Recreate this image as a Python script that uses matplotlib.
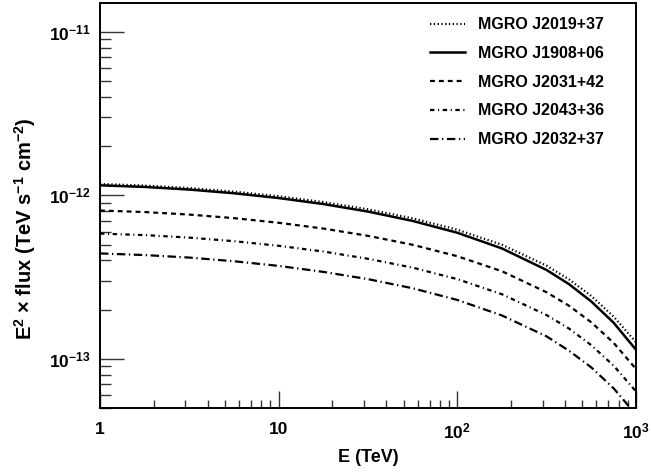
import matplotlib
matplotlib.use("Agg")
import matplotlib.pyplot as plt
from matplotlib.ticker import FixedLocator, FixedFormatter, LogLocator, NullFormatter

plt.rcParams['font.family'] = ['Liberation Sans', 'DejaVu Sans']
plt.rcParams['font.weight'] = 'bold'
plt.rcParams['mathtext.fontset'] = 'custom'
plt.rcParams['mathtext.rm'] = 'Liberation Sans:bold'
plt.rcParams['mathtext.bf'] = 'Liberation Sans:bold'
plt.rcParams['mathtext.it'] = 'Liberation Sans:bold'
plt.rcParams['mathtext.default'] = 'bf'

# Energy grid (TeV)
energy = [1.0, 1.778, 3.162, 5.623, 10.0, 17.78, 31.62, 56.23, 100.0,
          177.8, 316.2, 421.7, 562.3, 749.9, 1000.0]

# E^2 x flux (TeV s^-1 cm^-2)
j2019 = [1.172e-12, 1.147e-12, 1.107e-12, 1.053e-12, 9.87e-13, 9.09e-13, 8.21e-13, 7.23e-13,
         6.16e-13, 4.98e-13, 3.71e-13, 3.06e-13, 2.42e-13, 1.81e-13, 1.26e-13]
j1908 = [1.151e-12, 1.125e-12, 1.084e-12, 1.029e-12, 9.62e-13, 8.84e-13, 7.95e-13, 6.97e-13,
         5.90e-13, 4.73e-13, 3.49e-13, 2.86e-13, 2.24e-13, 1.66e-13, 1.135e-13]
j2031 = [8.07e-13, 7.90e-13, 7.62e-13, 7.25e-13, 6.79e-13, 6.26e-13, 5.65e-13, 4.98e-13,
         4.24e-13, 3.43e-13, 2.55e-13, 2.11e-13, 1.67e-13, 1.25e-13, 8.66e-14]
j2043 = [5.83e-13, 5.71e-13, 5.51e-13, 5.24e-13, 4.91e-13, 4.53e-13, 4.09e-13, 3.61e-13,
         3.07e-13, 2.48e-13, 1.85e-13, 1.53e-13, 1.21e-13, 9.07e-14, 6.31e-14]
j2032 = [4.41e-13, 4.31e-13, 4.16e-13, 3.95e-13, 3.70e-13, 3.40e-13, 3.07e-13, 2.70e-13,
         2.29e-13, 1.84e-13, 1.37e-13, 1.12e-13, 8.85e-14, 6.59e-14, 4.55e-14]

labels = ['MGRO J2019+37', 'MGRO J1908+06', 'MGRO J2031+42', 'MGRO J2043+36', 'MGRO J2032+37']

xticks = [1, 10, 100, 1000]
xticklabels = ['1', '10', r'$10^{2}$', r'$10^{3}$']
yticks = [1e-13, 1e-12, 1e-11]
yticklabels = [r'$10^{-13}$', r'$10^{-12}$', r'$10^{-11}$']

fig = plt.figure(figsize=(6.51, 4.72), dpi=100)
ax = fig.add_axes([0.1536, 0.1356, 0.977 - 0.1536, 0.9936 - 0.1356])

styles = [
    dict(linestyle=(0, (0.6, 1.1)), linewidth=1.6),
    dict(linestyle='-', linewidth=1.8),
    dict(linestyle=(0, (2.2, 1.8)), linewidth=1.6),
    dict(linestyle=(0, (2.0, 1.6, 0.5, 1.6)), linewidth=1.6),
    dict(linestyle=(0, (3.8, 1.6, 0.6, 1.6)), linewidth=1.6),
]
series = [j2019, j1908, j2031, j2043, j2032]
for s, st, lab in zip(series, styles, labels):
    ax.plot(energy, s, color='black', label=lab, **st)

ax.set_xscale('log')
ax.set_yscale('log')
ax.set_xlim(1, 1000)
ax.set_ylim(5.0e-14, 1.5e-11)

ax.xaxis.set_major_locator(FixedLocator(xticks))
ax.xaxis.set_major_formatter(FixedFormatter(xticklabels))
ax.xaxis.set_minor_locator(LogLocator(base=10, subs=range(2, 10)))
ax.xaxis.set_minor_formatter(NullFormatter())
ax.yaxis.set_major_locator(FixedLocator(yticks))
ax.yaxis.set_major_formatter(FixedFormatter(yticklabels))
ax.yaxis.set_minor_locator(LogLocator(base=10, subs=range(2, 10)))
ax.yaxis.set_minor_formatter(NullFormatter())

ax.tick_params(which='both', direction='in', top=False, right=False, width=1.0, color='#333333')
ax.tick_params(axis='x', which='major', length=12, pad=10, labelsize=12.5)
ax.tick_params(axis='x', which='minor', length=6)
ax.tick_params(axis='y', which='major', length=17, pad=7, labelsize=12.5)
ax.tick_params(axis='y', which='minor', length=8)

for sp in ax.spines.values():
    sp.set_linewidth(1.4)

ax.set_xlabel('E (TeV)', fontsize=13, fontweight='bold', labelpad=5)
ax.set_ylabel(r'E$^{2}$ $\times$ flux (TeV s$^{-1}$ cm$^{-2}$)', fontsize=14.5, fontweight='bold')
ax.yaxis.set_label_coords(-0.115, 0.442)

leg = ax.legend(loc='upper left', frameon=False, fontsize=11.5, handlelength=2.2,
                handletextpad=0.8, labelspacing=0.86, bbox_to_anchor=(0.616, 0.965),
                borderaxespad=0.0, borderpad=0.0)
for t in leg.get_texts():
    t.set_fontweight('bold')

fig.savefig('out.png', dpi=100)
